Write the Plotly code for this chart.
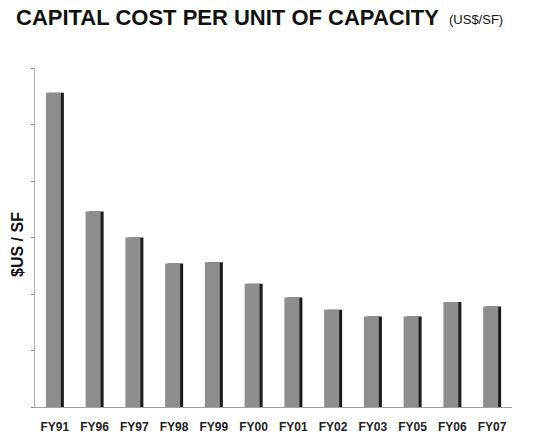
import plotly.graph_objects as go

categories = ["FY91", "FY96", "FY97", "FY98", "FY99", "FY00", "FY01", "FY02", "FY03", "FY05", "FY06", "FY07"]
cost_per_sf = [278, 173, 150, 127, 128, 109, 97, 86, 80, 80, 93, 89]

title_text = "CAPITAL COST PER UNIT OF CAPACITY"
unit_text = "(US$/SF)"
y_label = "$US / SF"

W, H = 555, 440
L, R, T, B = 35, 43, 68, 33
cat_px = (W - L - R) / len(categories)
PW, PH = W - L - R, H - T - B

fig = go.Figure()
# shadow
fig.add_trace(go.Bar(
    x=categories, y=cost_per_sf,
    offset=-6 / cat_px, width=15 / cat_px,
    marker=dict(color="#1c1c1c", line=dict(width=0)),
    hoverinfo="skip", showlegend=False,
))
# main bar
fig.add_trace(go.Bar(
    x=categories, y=cost_per_sf,
    offset=-9 / cat_px, width=15 / cat_px,
    marker=dict(color="#8e8e8e", line=dict(width=0)),
    showlegend=False,
))

fig.update_layout(
    width=W, height=H,
    margin=dict(l=L, r=R, t=T, b=B),
    paper_bgcolor="white", plot_bgcolor="white",
    barmode="overlay",
    font=dict(family="Liberation Sans, Arial, sans-serif", color="#222222"),
    xaxis=dict(
        showline=True, linecolor="#a0a0a0", linewidth=1,
        ticks="", showgrid=False, automargin=False,
        tickfont=dict(size=12, family="Liberation Sans, Arial, sans-serif",
                      color="#222222", weight="bold"),
        ticklabelstandoff=9,
    ),
    yaxis=dict(
        range=[0, 300], dtick=50, automargin=False,
        showline=True, linecolor="#b0b0b0", linewidth=1,
        ticks="outside", ticklen=3, tickcolor="#888888",
        showticklabels=False, showgrid=False, zeroline=False,
    ),
    annotations=[
        dict(text="<b>" + title_text + "</b>", xref="paper", yref="paper",
             x=(14 - L) / PW, y=1 + (T - 18) / PH,
             xanchor="left", yanchor="middle", showarrow=False,
             font=dict(size=22, color="#111111")),
        dict(text=unit_text, xref="paper", yref="paper",
             x=(447 - L) / PW, y=1 + (T - 19) / PH,
             xanchor="left", yanchor="middle", showarrow=False,
             font=dict(size=13, color="#111111")),
        dict(text="<b>" + y_label + "</b>", xref="paper", yref="paper",
             x=(18 - L) / PW, y=(H - B - 245) / PH,
             xanchor="center", yanchor="middle", showarrow=False,
             textangle=-90, font=dict(size=16, color="#111111")),
    ],
)

fig.write_html("out.html", config={"displayModeBar": False},
               post_script="document.body.style.margin='0';")
